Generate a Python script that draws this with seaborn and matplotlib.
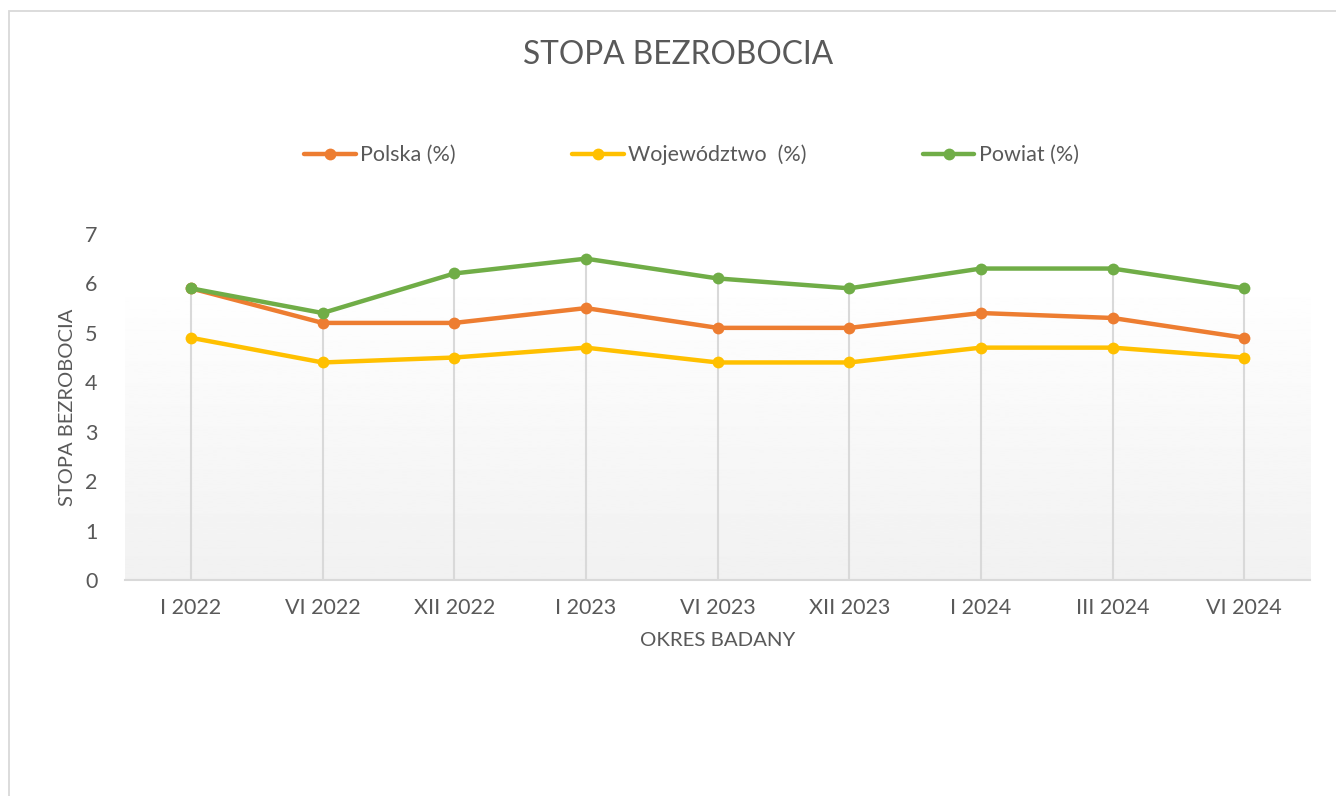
import numpy as np
import pandas as pd
import matplotlib.pyplot as plt
import seaborn as sns
from matplotlib.patches import Rectangle

# --- dane ---
okresy = ['I 2022', 'VI 2022', 'XII 2022', 'I 2023', 'VI 2023', 'XII 2023', 'I 2024', 'III 2024', 'VI 2024']
polska = [5.9, 5.2, 5.2, 5.5, 5.1, 5.1, 5.4, 5.3, 4.9]
wojewodztwo = [4.9, 4.4, 4.5, 4.7, 4.4, 4.4, 4.7, 4.7, 4.5]
powiat = [5.9, 5.4, 6.2, 6.5, 6.1, 5.9, 6.3, 6.3, 5.9]

serie = ['Polska (%)', 'Województwo  (%)', 'Powiat (%)']
kolory = ['#ED7D31', '#FFC000', '#70AD47']

df = pd.DataFrame({'Okres': okresy * 3,
                   'Seria': np.repeat(serie, len(okresy)),
                   'Wartosc': polska + wojewodztwo + powiat})
df['x'] = df.groupby('Seria').cumcount()

sns.set_theme(style="white")
plt.rcParams['font.family'] = ['Lato', 'DejaVu Sans']
SZARY = '#595959'

fig = plt.figure(figsize=(13.36, 7.96), dpi=100)
ax = fig.add_axes([0.0936, 0.2714, 0.887, 0.4347])

# ramka wykresu
fig.patches.append(Rectangle((9 / 1336, -0.05), 1.1, 1 - 11 / 796 + 0.05, transform=fig.transFigure,
                             fill=False, edgecolor='#d9d9d9', linewidth=1.3))

# gradient tła
grad = np.linspace(1.0, 0.945, 256).reshape(-1, 1)
ax.imshow(grad, cmap='gray', vmin=0, vmax=1, aspect='auto',
          extent=[-0.5, 8.5, 0, 6.15], origin='upper', zorder=0)

# linie pionowe (drop lines)
maks = df.groupby('x')['Wartosc'].max()
ax.vlines(maks.index, 0, maks.values, color='#d9d9d9', linewidth=1.5, zorder=1)

sns.lineplot(data=df, x='x', y='Wartosc', hue='Seria', palette=kolory, hue_order=serie,
             marker='o', markersize=8.5, markeredgewidth=0, linewidth=3.2, ax=ax, zorder=3)

ax.set_xlim(-0.5, 8.5)
ax.set_ylim(0, 7)
ax.set_xticks(range(len(okresy)))
ax.set_xticklabels(okresy)
ax.set_yticks(range(0, 8))
ax.tick_params(axis='both', colors=SZARY, labelsize=15.5, length=0)
ax.tick_params(axis='x', pad=13)
ax.tick_params(axis='y', pad=20)
for s in ['top', 'right', 'left']:
    ax.spines[s].set_visible(False)
ax.spines['bottom'].set_color('#d9d9d9')
ax.spines['bottom'].set_linewidth(1.5)
ax.spines['bottom'].set_zorder(2)
ax.grid(False)

ax.set_xlabel('OKRES BADANY', color=SZARY, fontsize=14.7, labelpad=10)
ax.set_ylabel('STOPA BEZROBOCIA', color=SZARY, fontsize=14.5, labelpad=6)

fig.text(678 / 1336, 1 - 55 / 796, 'STOPA BEZROBOCIA', ha='center', va='center', color=SZARY, fontsize=22.8)

handles, labels = ax.get_legend_handles_labels()
ax.legend_.remove()
leg = fig.legend(handles, labels, loc='center', bbox_to_anchor=(0.5176, 1 - 155 / 796), ncol=3,
                 frameon=False, fontsize=15.5, handlelength=2.4, handletextpad=0.2,
                 columnspacing=5.4, labelcolor=SZARY)

fig.savefig('out.png', dpi=100, facecolor='white')
